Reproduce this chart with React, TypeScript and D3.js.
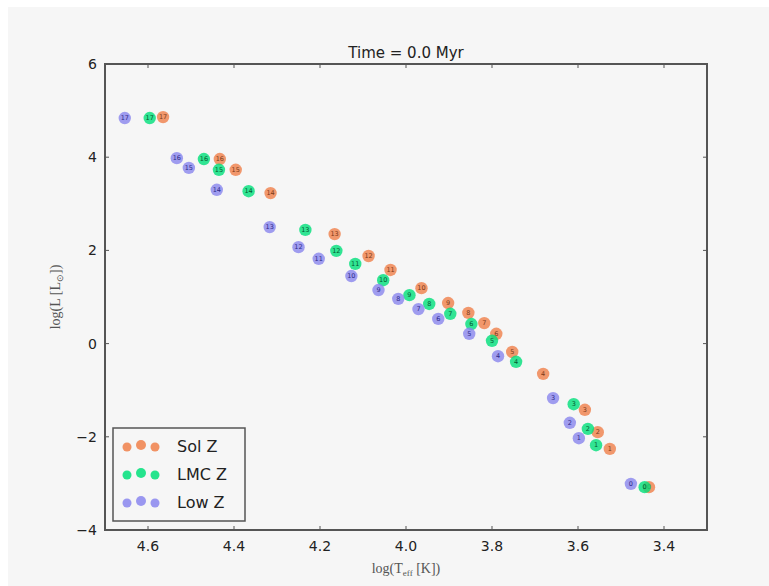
import React from "react";
import * as d3 from "d3";

const labels = [0,1,2,3,4,5,6,7,8,9,10,11,12,13,14,15,16,17];
const solX = [3.435,3.526,3.554,3.584,3.681,3.753,3.790,3.818,3.855,3.902,3.964,4.036,4.087,4.166,4.315,4.396,4.433,4.565];
const solY = [-3.08,-2.26,-1.90,-1.42,-0.65,-0.18,0.21,0.44,0.66,0.87,1.19,1.58,1.88,2.35,3.23,3.73,3.96,4.86];
const lmcX = [3.445,3.558,3.577,3.610,3.744,3.800,3.848,3.897,3.946,3.992,4.053,4.118,4.162,4.234,4.366,4.435,4.470,4.596];
const lmcY = [-3.08,-2.18,-1.83,-1.30,-0.39,0.06,0.42,0.64,0.85,1.04,1.36,1.71,1.99,2.44,3.27,3.73,3.96,4.84];
const lowX = [3.477,3.598,3.619,3.658,3.786,3.853,3.925,3.971,4.018,4.064,4.127,4.203,4.250,4.317,4.440,4.505,4.533,4.654];
const lowY = [-3.01,-2.03,-1.70,-1.17,-0.27,0.21,0.53,0.74,0.96,1.15,1.45,1.82,2.07,2.50,3.30,3.77,3.98,4.84];

const seriesNames = ["Sol Z", "LMC Z", "Low Z"];
const seriesColors = ["#f0804a", "#00e07a", "#8a86ee"];
const labelColors = ["#7a3a18", "#035a30", "#2c2a8a"];

const xTicks = [4.6, 4.4, 4.2, 4.0, 3.8, 3.6, 3.4];
const yTicks = [-4, -2, 0, 2, 4, 6];

export default function App() {
  const W = 769, H = 586;
  const L = 105, R = 707, T = 64, B = 530;
  const x = d3.scaleLinear().domain([4.7, 3.3]).range([L, R]);
  const y = d3.scaleLinear().domain([-4, 6]).range([B, T]);
  const series = [
    { xs: solX, ys: solY },
    { xs: lmcX, ys: lmcY },
    { xs: lowX, ys: lowY },
  ];
  const axisColor = "#555";
  const font = "DejaVu Sans, sans-serif";
  return (
    <svg width={W} height={H} style={{ position: "absolute", left: 0, top: 0 }}>
      <rect x={0} y={0} width={W} height={H} fill="#ffffff" />
      <rect x={8} y={7} width={W - 8} height={H - 7} fill="#f6f6f6" />
      <text x={(L + R) / 2} y={58} textAnchor="middle" fontFamily={font} fontSize={15} fill="#222">
        Time = 0.0 Myr
      </text>
      {series.map((s, si) => (
        <g key={si}>
          {s.xs.map((v, i) => (
            <g key={i}>
              <circle cx={x(v)} cy={y(s.ys[i])} r={6.2} fill={seriesColors[si]} fillOpacity={0.8} />
              <text x={x(v)} y={y(s.ys[i]) + 2.2} textAnchor="middle" fontFamily={font} fontSize={6.5} fill={labelColors[si]}>
                {labels[i]}
              </text>
            </g>
          ))}
        </g>
      ))}
      {xTicks.map((t) => (
        <g key={"x" + t}>
          <line x1={x(t)} x2={x(t)} y1={B} y2={B - 4} stroke={axisColor} />
          <line x1={x(t)} x2={x(t)} y1={T} y2={T + 4} stroke={axisColor} />
          <text x={x(t)} y={B + 21} textAnchor="middle" fontFamily={font} fontSize={14} fill="#222">
            {t.toFixed(1)}
          </text>
        </g>
      ))}
      {yTicks.map((t) => (
        <g key={"y" + t}>
          <line x1={L} x2={L + 4} y1={y(t)} y2={y(t)} stroke={axisColor} />
          <line x1={R} x2={R - 4} y1={y(t)} y2={y(t)} stroke={axisColor} />
          <text x={L - 8} y={y(t) + 5} textAnchor="end" fontFamily={font} fontSize={14} fill="#222">
            {t < 0 ? "\u2212" + Math.abs(t) : t}
          </text>
        </g>
      ))}
      <rect x={L} y={T} width={R - L} height={B - T} fill="none" stroke={axisColor} strokeWidth={2} />
      <text x={(L + R) / 2} y={B + 43} textAnchor="middle" fontFamily="Liberation Serif, serif" fontSize={14} fill="#555">
        log(T<tspan fontSize={9} dy={3}>eff</tspan><tspan dy={-3}> [K])</tspan>
      </text>
      <text transform={`translate(${60},${(T + B) / 2}) rotate(-90)`} textAnchor="middle" fontFamily="Liberation Serif, serif" fontSize={14} fill="#555">
        log(L [L<tspan fontSize={9} dy={3}>⊙</tspan><tspan dy={-3}>])</tspan>
      </text>
      <g>
        <rect x={113} y={428} width={132} height={93} fill="#f6f6f6" stroke={axisColor} strokeWidth={1.5} />
        {seriesNames.map((n, i) => {
          const cy = 446 + i * 28;
          return (
            <g key={n}>
              {[{ dx: 127, r: 4.5 }, { dx: 141, r: 5 }, { dx: 155, r: 4.5 }].map((m, k) => (
                <circle key={k} cx={m.dx} cy={cy + (k === 1 ? -1 : 1)} r={m.r} fill={seriesColors[i]} fillOpacity={0.85} />
              ))}
              <text x={177} y={cy + 6} fontFamily={font} fontSize={16} fill="#222">
                {n}
              </text>
            </g>
          );
        })}
      </g>
    </svg>
  );
}
